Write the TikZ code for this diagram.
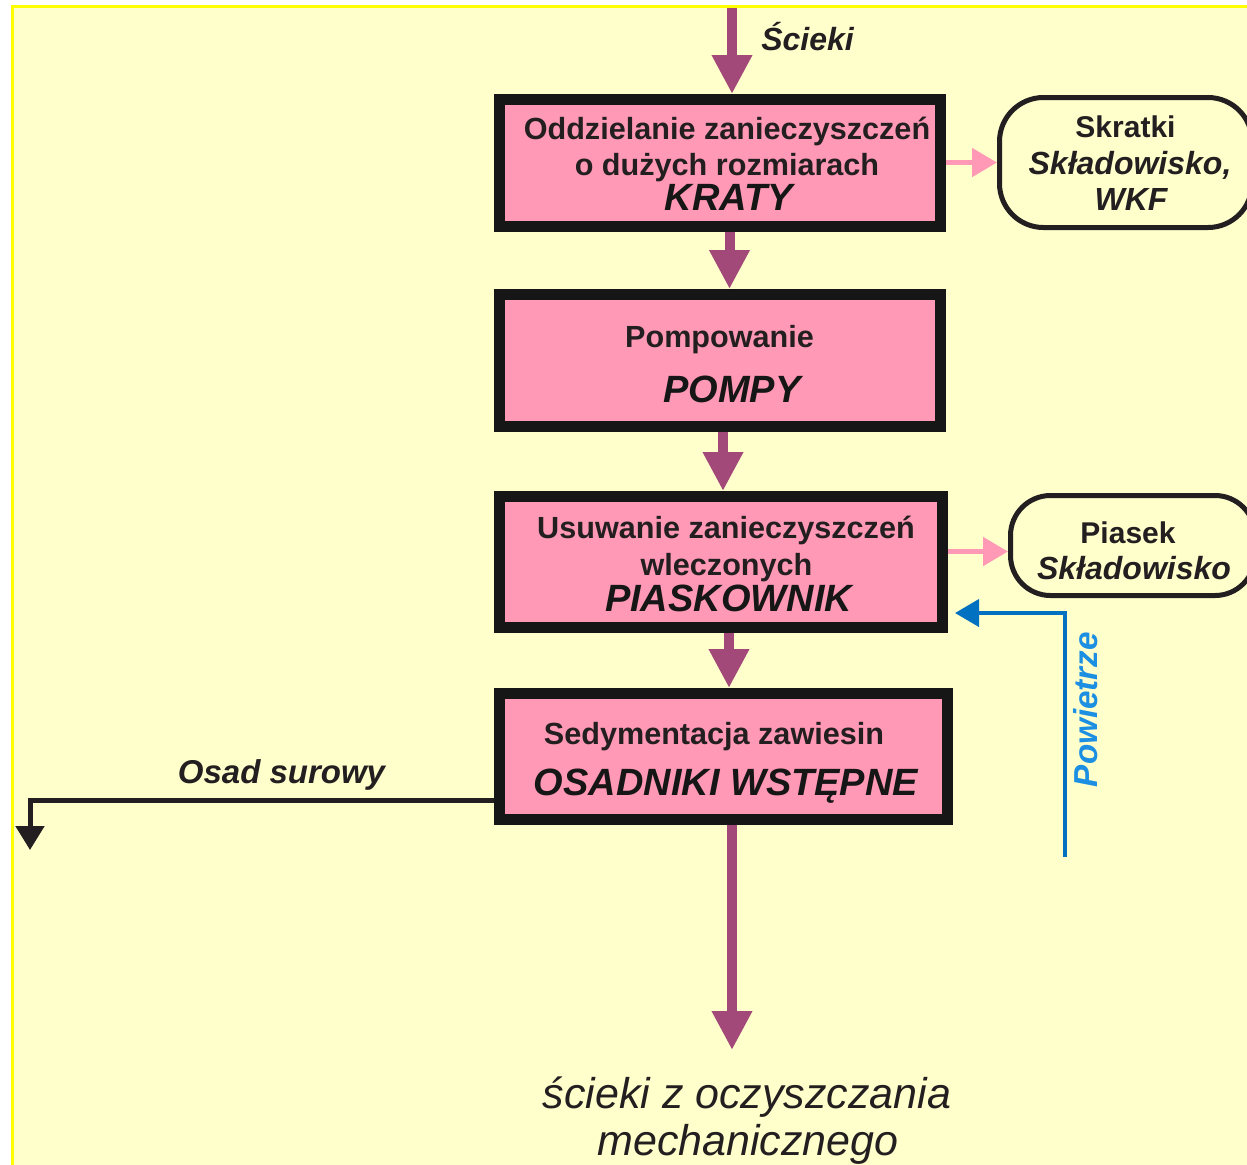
\documentclass[tikz,border=0pt]{standalone}
\usepackage{fontspec}
\setmainfont{Liberation Sans}
\usetikzlibrary{arrows.meta}
\definecolor{bgy}{HTML}{FFFFCC}
\definecolor{frameyellow}{HTML}{FFFF00}
\definecolor{pinkfill}{HTML}{FF99B6}
\definecolor{flowpurple}{HTML}{A3497A}
\definecolor{boxblack}{HTML}{161616}
\definecolor{inkdark}{HTML}{231F20}
\definecolor{airblue}{HTML}{0070C0}
\definecolor{airtext}{HTML}{1C8FE3}
\tikzset{
  proc/.style={draw=boxblack, line width=5.5pt, fill=pinkfill, rectangle, inner sep=0pt},
  term/.style={draw=inkdark, line width=2.5pt, rectangle, rounded corners=22pt, inner sep=0pt},
  btxt/.style={anchor=base, inner sep=0pt, text=inkdark, font=\fontsize{15.3}{18}\selectfont\bfseries},
  bigtxt/.style={anchor=base, inner sep=0pt, text=boxblack, font=\fontsize{19}{22}\selectfont\bfseries\itshape},
  stxt/.style={anchor=base, inner sep=0pt, text=inkdark, font=\fontsize{15}{18}\selectfont\bfseries},
  sitxt/.style={anchor=base, inner sep=0pt, text=inkdark, font=\fontsize{16}{19}\selectfont\bfseries\itshape},
  flow/.style={draw=flowpurple, line width=5pt, -{Triangle[length=19.5pt,width=19pt]}},
  sidearrow/.style={draw=pinkfill, line width=2.5pt, -{Triangle[length=12.5pt,width=14pt]}},
  airarrow/.style={draw=airblue, line width=2pt, -{Triangle[length=12pt,width=13.5pt]}},
  sludge/.style={draw=inkdark, line width=2.5pt, -{Triangle[length=12pt,width=14pt]}},
}
\begin{document}
\begin{tikzpicture}[x=0.5pt,y=-0.5pt]
\useasboundingbox (0,0) rectangle (1247,1164);
\clip (0,0) rectangle (1247,1164);
\fill[white] (0,0) rectangle (1247,1164);
\draw[draw=frameyellow, fill=bgy, line width=1.5pt] (12.5,6.5) rectangle (1280,1200);

% process boxes
\node[proc, minimum width=220.5pt, minimum height=63.5pt] (box1) at (720,163) {};
\node[proc, minimum width=220.5pt, minimum height=66pt] (box2) at (720,360.5) {};
\node[proc, minimum width=221.5pt, minimum height=65.5pt] (box3) at (721,562) {};
\node[proc, minimum width=224pt, minimum height=63pt] (box4) at (723.5,756.5) {};

% box texts
\node[btxt] (t1a) at (727,139) {Oddzielanie zanieczyszczeń};
\node[btxt] (t1b) at (727,175) {o dużych rozmiarach};
\node[bigtxt] (t1c) at (729,210) {KRATY};
\node[btxt] (t2a) at (719.5,347) {Pompowanie};
\node[bigtxt] (t2b) at (732,402) {POMPY};
\node[btxt] (t3a) at (726,538) {Usuwanie zanieczyszczeń};
\node[btxt] (t3b) at (726.5,575) {wleczonych};
\node[bigtxt] (t3c) at (728.5,611) {PIASKOWNIK};
\node[btxt] (t4a) at (714,744) {Sedymentacja zawiesin};
\node[bigtxt] (t4b) at (726,795) {OSADNIKI WSTĘPNE};

% terminal boxes
\node[term, minimum width=126.25pt, minimum height=65pt] (skr) at (1125.75,162.5) {};
\node[stxt] (skra) at (1125.5,137) {Skratki};
\node[sitxt] (skrb) at (1130,174) {Składowisko,};
\node[sitxt] (skrc) at (1131,210) {WKF};

\node[term, rounded corners=20pt, minimum width=122.25pt, minimum height=50pt] (pias) at (1132.75,545.5) {};
\node[stxt] (piasa) at (1128,543) {Piasek};
\node[sitxt] (piasb) at (1134,579) {Składowisko};

% main flow
\coordinate (inflow) at (732,8);
\coordinate (outflow) at (732,1050);
\draw[flow] (inflow) -- (inflow |- box1.north);
\node[sitxt] (scieki) at (807.5,50) {Ścieki};
\draw[flow] ([xshift=4.75pt]box1.south) -- ([xshift=4.75pt]box1.south |- box2.north);
\draw[flow] ([xshift=1.5pt]box2.south) -- ([xshift=1.5pt]box2.south |- box3.north);
\draw[flow] ([xshift=4pt]box3.south) -- ([xshift=4pt]box3.south |- box4.north);
\draw[flow] (box4.south -| outflow) -- (outflow);

\node[anchor=base, inner sep=0pt, text=inkdark, font=\fontsize{21.5}{25}\selectfont\itshape] (outa) at (747,1108) {ścieki z oczyszczania};
\node[anchor=base, inner sep=0pt, text=inkdark, font=\fontsize{21.5}{25}\selectfont\itshape] (outb) at (748,1155) {mechanicznego};

% side outputs
\draw[sidearrow] (box1.east |- skr.west) -- (skr.west);
\draw[sidearrow] ([yshift=-3pt]pias.west -| box3.east) -- ([yshift=-3pt]pias.west);

% air
\coordinate (airsrc) at (1065,857);
\draw[airarrow] (airsrc) |- ([xshift=3.5pt,yshift=-25.5pt]box3.east);
\node[inner sep=0pt, rotate=90, text=airtext, font=\fontsize{16.6}{19}\selectfont\bfseries\itshape] (air) at (1086,709.5) {Powietrze};

% raw sludge
\coordinate (sludgeout) at (30,850);
\draw[sludge] ([yshift=-21.75pt]box4.west) -| (sludgeout);
\node[sitxt, font=\fontsize{16.5}{19}\selectfont\bfseries\itshape] (osad) at (281.5,783) {Osad surowy};
\end{tikzpicture}
\end{document}
